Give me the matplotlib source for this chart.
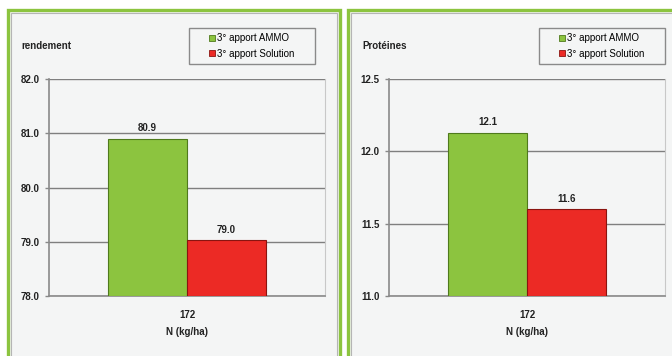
import matplotlib
matplotlib.use("Agg")
import matplotlib.pyplot as plt
from matplotlib.patches import Rectangle, Patch

plt.rcParams["font.family"] = ["Liberation Sans", "DejaVu Sans"]

# data
series = ["3° apport AMMO", "3° apport Solution"]
dose = ["172"]
rendement = [80.9, 79.03]
proteines = [12.13, 11.6]
rend_ticks = [78.0, 79.0, 80.0, 81.0, 82.0]
prot_ticks = [11.0, 11.5, 12.0, 12.5]

colors = ["#8cc43f", "#ec2a25"]
edges = ["#4f7a1c", "#8a1410"]
panel_bg = "#f4f5f5"
green = "#8cc43f"

W, H = 672, 356
fig = plt.figure(figsize=(W / 100, H / 100), dpi=100)
fig.patch.set_facecolor("white")


def px(x, y, w, h):
    return [x / W, 1 - (y + h) / H, w / W, h / H]


def panel(x0, x1):
    # green border + grey inner line
    r = px(x0, 10, x1 - x0, 360)
    fig.patches.append(Rectangle((r[0], r[1]), r[2], r[3], transform=fig.transFigure,
                                 facecolor=panel_bg, edgecolor=green, lw=2.4, zorder=-3))
    r = px(x0 + 2.5, 12.5, x1 - x0 - 5, 360)
    fig.patches.append(Rectangle((r[0], r[1]), r[2], r[3], transform=fig.transFigure,
                                 facecolor="none", edgecolor="#b5b5b5", lw=0.8, zorder=-2))


def draw(ax_x, title, vals, ticks, title_x, leg_x):
    ax = fig.add_axes(px(ax_x, 79, 276, 217))
    ax.set_zorder(2)
    ax.set_facecolor(panel_bg)
    w = 0.285
    for i, (v, c, e) in enumerate(zip(vals, colors, edges)):
        xpos = (i - 0.5) * w
        ax.bar(xpos, v - ticks[0], width=w, bottom=ticks[0], color=c, edgecolor=e,
               lw=0.8, zorder=3)
        ax.text(xpos, v + (ticks[-1] - ticks[0]) * 0.025, f"{v:.1f}", ha="center",
                va="bottom", fontsize=7, fontweight="bold", color="#222222")
    ax.set_xlim(-0.5, 0.5)
    ax.set_ylim(ticks[0], ticks[-1])
    ax.set_yticks(ticks)
    ax.set_yticklabels([f"{t:.1f}" for t in ticks], fontsize=7, fontweight="bold",
                       color="#222222")
    ax.set_xticks([0])
    ax.set_xticklabels(dose, fontsize=7, fontweight="bold", color="#222222")
    ax.tick_params(axis="x", length=0, pad=10)
    ax.tick_params(axis="y", length=3, color="#888888", width=1, pad=4)
    ax.set_xlabel("N (kg/ha)", fontsize=7, fontweight="bold", color="#222222", labelpad=5)
    ax.grid(axis="y", color="#7f7f7f", lw=1, zorder=1)
    for s in ["left", "bottom"]:
        ax.spines[s].set_color("#8a8a8a")
        ax.spines[s].set_linewidth(1.2)
    ax.spines["top"].set_visible(False)
    ax.spines["right"].set_color("#c8c8c8")
    ax.spines["right"].set_linewidth(0.8)
    fig.text(title_x / W, 1 - 46 / H, title, fontsize=7, fontweight="bold",
             color="#222222", va="center")
    # legend box
    r = px(leg_x, 28, 126, 36)
    fig.patches.append(Rectangle((r[0], r[1]), r[2], r[3], transform=fig.transFigure,
                                 facecolor=panel_bg, edgecolor="#8a8a8a", lw=1, zorder=-1))
    handles = [Patch(facecolor=c, edgecolor=e, lw=0.6) for c, e in zip(colors, edges)]
    leg = fig.legend(handles, series, loc="center",
                     bbox_to_anchor=((leg_x + 63) / W, 1 - 46 / H),
                     frameon=False, fontsize=7, handlelength=0.6, handleheight=0.6,
                     handletextpad=0.2, labelspacing=0.55, borderpad=0)
    leg.set_zorder(3)
    return ax


panel(8, 340)
panel(348, 690)
draw(49, "rendement", rendement, rend_ticks, 21, 189)
draw(389, "Protéines", proteines, prot_ticks, 362, 539)

fig.savefig("out.png", dpi=100)
